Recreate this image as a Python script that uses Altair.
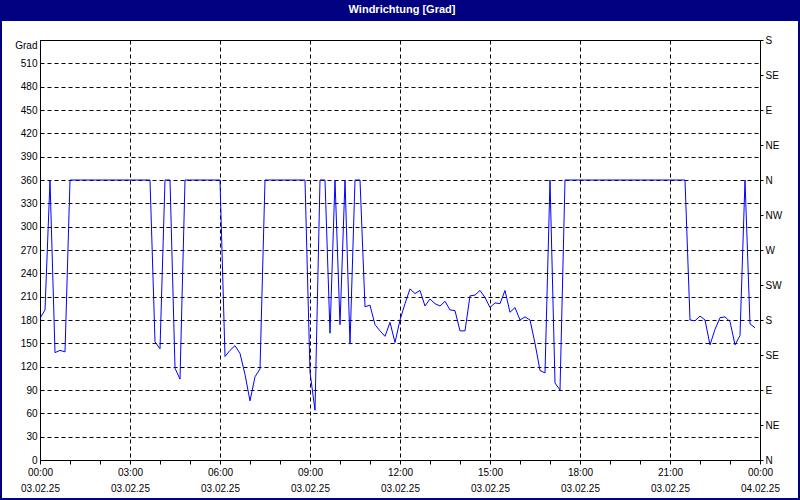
import altair as alt
import pandas as pd

title_text = "Windrichtung [Grad]"

# wind direction, 10-minute readings from 03.02.25 00:00 to 23:50
direction = (
    [182, 193, 360, 138, 141, 139]
    + [360] * 17
    + [152, 143, 360, 360, 118, 104]
    + [360] * 8
    + [133, 141, 147, 137, 110, 76, 107, 117]
    + [360] * 9
    + [113, 64, 360, 360, 163, 360, 174, 360, 149, 360, 360,
       197, 199, 174, 166, 159, 177, 151, 180, 201, 220, 214, 218,
       198, 207, 201, 198, 204, 193, 192, 166, 166, 211, 212, 218,
       209, 196, 202, 201, 218, 190, 196, 180, 184, 180, 150, 115,
       112, 360, 99, 90]
    + [360] * 25
    + [180, 179, 185, 180, 148, 168, 183, 184, 178, 148, 160, 360, 175, 170]
)
step_minutes = 10
hours = [i * step_minutes / 60 for i in range(len(direction))]

y_ticks = list(range(0, 541, 30))
x_ticks = list(range(0, 25))
x_label_hours = [0, 3, 6, 9, 12, 15, 18, 21, 24]
x_time_labels = ["00:00", "03:00", "06:00", "09:00", "12:00", "15:00", "18:00", "21:00", "00:00"]
x_date_labels = ["03.02.25"] * 8 + ["04.02.25"]
compass_values = list(range(0, 541, 45))
compass_labels = ["N", "NE", "E", "SE", "S", "SW", "W", "NW", "N", "NE", "E", "SE", "S"]

FONT = "Liberation Sans"

df = pd.DataFrame({"h": hours, "deg": direction})
df_compass = pd.DataFrame({"v": compass_values})

x_expr = ""
for hv, tl, dl in zip(x_label_hours, x_time_labels, x_date_labels):
    x_expr += f"datum.value == {hv} ? ['{tl}', '{dl}'] : "
x_expr += "''"

compass_expr = "[" + ",".join(f"'{c}'" for c in compass_labels) + "][round(datum.value / 45)]"

x_scale = alt.Scale(domain=[0, 24], nice=False, zero=False)
y_scale = alt.Scale(domain=[0, 540], nice=False, zero=False)

x_axis = alt.Axis(
    values=x_ticks,
    labelExpr=x_expr,
    title=None,
    domain=False,
    ticks=True,
    tickSize=4,
    tickColor="black",
    labelFlush=False,
    labelOverlap=False,
    labelFont=FONT,
    labelFontSize=10,
    labelColor="black",
    labelPadding=3,
    labelLineHeight=16,
    grid=True,
    gridColor="black",
    gridDash=[4, 3],
    gridWidth=1,
    gridOpacity={"condition": {"test": "datum.value % 3 == 0", "value": 1}, "value": 0},
)

y_axis = alt.Axis(
    values=y_ticks,
    labelExpr="datum.value == 540 ? 'Grad' : datum.label",
    title=None,
    domain=False,
    ticks=False,
    labelFlush=False,
    labelOverlap=False,
    labelFont=FONT,
    labelFontSize=10,
    labelColor="black",
    labelPadding=3,
    labelBaseline={"condition": {"test": "datum.value == 540", "value": "top"}, "value": "middle"},
    grid=True,
    gridColor="black",
    gridDash=[4, 3],
    gridWidth=1,
)

right_axis = alt.Axis(
    orient="right",
    values=compass_values,
    labelExpr=compass_expr,
    title=None,
    domain=False,
    ticks=True,
    tickSize=3,
    tickColor="black",
    labelFlush=False,
    labelOverlap=False,
    labelFont=FONT,
    labelFontSize=10,
    labelColor="black",
    labelPadding=2,
    grid=False,
)

line = alt.Chart(df).mark_line(color="#0000ff", strokeWidth=1, clip=True).encode(
    x=alt.X("h:Q", scale=x_scale, axis=x_axis),
    y=alt.Y("deg:Q", scale=y_scale, axis=y_axis),
)

compass = alt.Chart(df_compass).mark_point(opacity=0).encode(
    y=alt.Y("v:Q", scale=y_scale, axis=right_axis),
)

df_title = pd.DataFrame({"t": [title_text]})
title_bar = alt.Chart(df_title).mark_rect(color="#000080").encode(
    x=alt.value(-40), x2=alt.value(760), y=alt.value(-40), y2=alt.value(-19)
)
title_label = alt.Chart(df_title).mark_text(
    color="white", font=FONT, fontSize=11, fontWeight="bold", align="center", baseline="middle"
).encode(x=alt.value(362), y=alt.value(-30), text="t:N")
border = alt.Chart(df_title).mark_rect(fill=None, stroke="#000080", strokeWidth=2).encode(
    x=alt.value(-39), x2=alt.value(759), y=alt.value(-39), y2=alt.value(459)
)

chart = (
    alt.layer(line, compass, title_bar, title_label, border)
    .resolve_scale(y="shared")
    .resolve_axis(y="independent")
    .properties(
        width=720,
        height=420,
        autosize=alt.AutoSizeParams(type="none"),
        padding={"left": 40, "top": 40, "right": 40, "bottom": 40},
        background="white",
    )
    .configure_view(stroke="black", strokeWidth=1)
)

chart.save("out.html", embed_options={"renderer": "svg", "actions": False})
